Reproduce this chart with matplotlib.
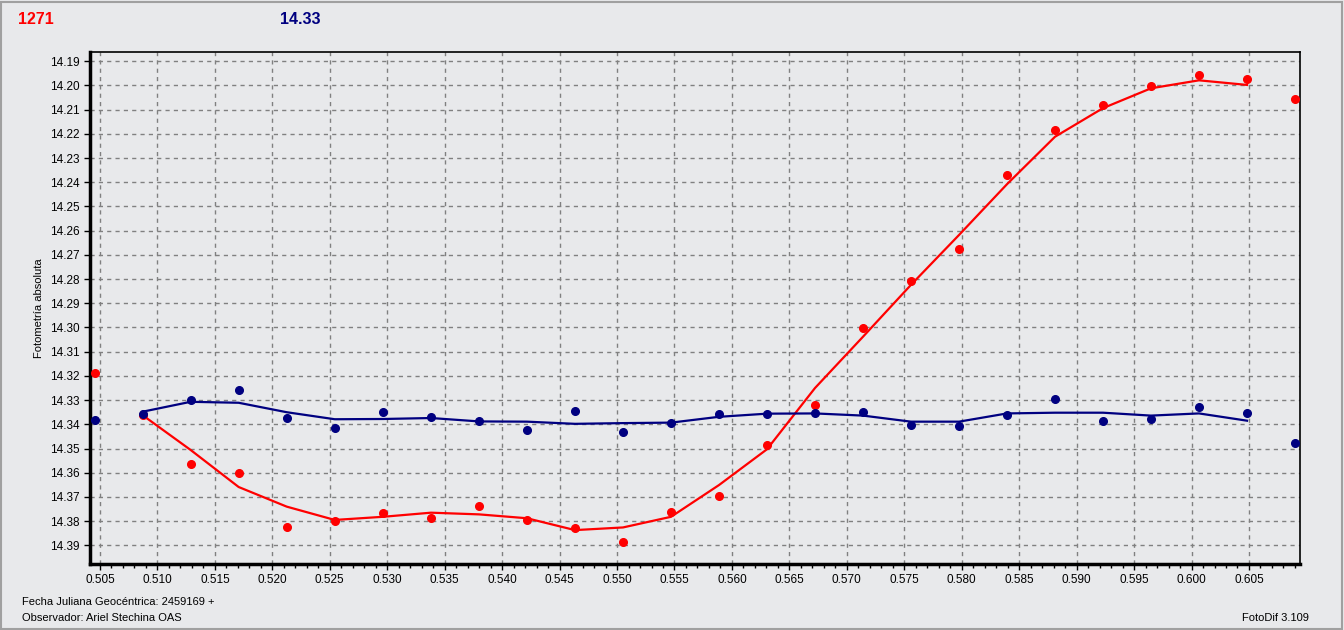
import matplotlib.pyplot as plt
from matplotlib.ticker import MultipleLocator, FormatStrFormatter
from matplotlib.patches import Rectangle

# fecha juliana (fraccion) de cada medida
jd = [0.50456, 0.50870, 0.51289, 0.51707, 0.52125, 0.52543, 0.52963,
      0.53381, 0.53799, 0.54216, 0.54634, 0.55052, 0.55470, 0.55887,
      0.56305, 0.56723, 0.57141, 0.57558, 0.57976, 0.58394, 0.58812,
      0.59229, 0.59647, 0.60065, 0.60483, 0.60900]

# variable (rojo) y comparacion (azul)
var_mag = [14.3187, 14.3362, 14.3563, 14.3600, 14.3823, 14.3798, 14.3765,
           14.3786, 14.3736, 14.3795, 14.3827, 14.3885, 14.3761, 14.3695,
           14.3484, 14.3319, 14.3001, 14.2807, 14.2676, 14.2370, 14.2183,
           14.2083, 14.2002, 14.1955, 14.1972, 14.2055]
comp_mag = [14.3381, 14.3356, 14.3298, 14.3258, 14.3373, 14.3415, 14.3348,
            14.3369, 14.3385, 14.3422, 14.3344, 14.3431, 14.3393, 14.3356,
            14.3356, 14.3352, 14.3348, 14.3403, 14.3407, 14.3362, 14.3295,
            14.3385, 14.3378, 14.3329, 14.3352, 14.3476]

# curvas suavizadas (del punto 2 al 25)
var_smooth = [14.3362, 14.3506, 14.3659, 14.3740, 14.3795, 14.3782, 14.3765,
              14.3772, 14.3788, 14.3837, 14.3826, 14.3782, 14.3651, 14.3503,
              14.3250, 14.3038, 14.2824, 14.2618, 14.2408, 14.2212, 14.2094,
              14.2012, 14.1979, 14.1998]
comp_smooth = [14.3348, 14.3307, 14.3311, 14.3350, 14.3379, 14.3378, 14.3374,
               14.3388, 14.3389, 14.3398, 14.3395, 14.3393, 14.3369, 14.3356,
               14.3355, 14.3364, 14.3389, 14.3389, 14.3355, 14.3352, 14.3352,
               14.3364, 14.3355, 14.3385]

bg = '#e8e9eb'
red = '#ff0000'
navy = '#000080'

plt.rcParams['font.family'] = ['Liberation Sans', 'DejaVu Sans']

fig = plt.figure(figsize=(13.44, 6.3), dpi=100, facecolor=bg)
ax = fig.add_axes([90/1344, 1-564/630, 1210/1344, 512/630])
ax.set_facecolor(bg)

# borde de la ventana
fig.patches.append(Rectangle((0.0008, 0.0016), 0.998, 0.995, transform=fig.transFigure,
                             fill=False, edgecolor='#a0a0a0', lw=1.5))

ax.plot(jd[1:25], var_smooth, color=red, lw=1.6, zorder=3)
ax.plot(jd[1:25], comp_smooth, color=navy, lw=1.6, zorder=3)
ax.plot(jd, var_mag, 'o', color=red, ms=5.5, zorder=4)
ax.plot(jd, comp_mag, 'o', color=navy, ms=5.5, zorder=4)

ax.set_xlim(0.50413, 0.60944)
ax.set_ylim(14.3977, 14.1862)

ax.xaxis.set_major_locator(MultipleLocator(0.005))
ax.xaxis.set_minor_locator(MultipleLocator(0.001))
ax.xaxis.set_major_formatter(FormatStrFormatter('%.3f'))
ax.yaxis.set_major_locator(MultipleLocator(0.01))
ax.yaxis.set_major_formatter(FormatStrFormatter('%.2f'))

ax.grid(False, which='minor')
ax.grid(True, which='major', color='#808080', linestyle=(0, (3, 3)), lw=1)
ax.tick_params(which='major', length=4, width=1, labelsize=8.5, color='black')
ax.tick_params(which='minor', length=3, width=1)

for side in ['left', 'bottom']:
    ax.spines[side].set_linewidth(2.5)
for side in ['top', 'right']:
    ax.spines[side].set_linewidth(1.2)

ax.set_ylabel('Fotometría absoluta', fontsize=8, labelpad=4)

fig.text(18/1344, 1-19/630, '1271', color=red, fontsize=11.5, fontweight='bold', va='center')
fig.text(280/1344, 1-19/630, '14.33', color=navy, fontsize=11.5, fontweight='bold', va='center')
fig.text(22/1344, 1-602/630, 'Fecha Juliana Geocéntrica: 2459169 +', fontsize=8, va='center')
fig.text(22/1344, 1-618/630, 'Observador: Ariel Stechina OAS', fontsize=8, va='center')
fig.text(1309/1344, 1-618/630, 'FotoDif 3.109', fontsize=8, va='center', ha='right')

plt.savefig('out.png', dpi=100, facecolor=bg)
